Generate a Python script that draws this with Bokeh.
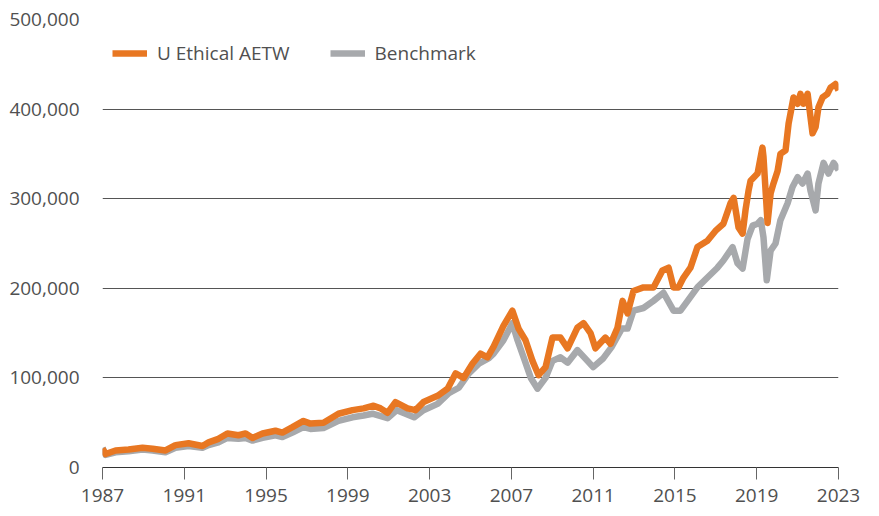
from bokeh.plotting import figure
from bokeh.models import (Range1d, FixedTicker, NumeralTickFormatter, Legend, LegendItem)
from bokeh.embed import file_html
from bokeh.resources import INLINE

# ---- data ----
fund_year = [1987.0, 1987.15, 1987.64, 1988.27, 1988.96, 1989.45, 1990.08, 1990.57, 1991.21,
             1991.89, 1992.19, 1992.67, 1993.11, 1993.65, 1994.0, 1994.34, 1994.83, 1995.46,
             1995.80, 1996.29, 1996.83, 1997.17, 1997.81, 1998.54, 1999.23, 1999.77, 2000.26,
             2000.60, 2000.94, 2001.33, 2001.92, 2002.31, 2002.70, 2003.39, 2003.88, 2004.27,
             2004.66, 2005.10, 2005.49, 2005.83, 2006.13, 2006.61, 2007.05, 2007.35, 2007.69,
             2008.03, 2008.33, 2008.67, 2009.01, 2009.40, 2009.75, 2010.23, 2010.53, 2010.87,
             2011.11, 2011.60, 2011.85, 2012.19, 2012.44, 2012.68, 2012.97, 2013.46, 2013.95,
             2014.39, 2014.69, 2014.93, 2015.17, 2015.42, 2015.76, 2016.10, 2016.59, 2016.98,
             2017.37, 2017.72, 2017.87, 2018.11, 2018.31, 2018.45, 2018.60, 2018.70, 2019.04,
             2019.28, 2019.33, 2019.53, 2019.68, 2019.82, 2020.02, 2020.16, 2020.41, 2020.56,
             2020.80, 2021.00, 2021.14, 2021.29, 2021.49, 2021.63, 2021.73, 2021.88, 2022.02,
             2022.22, 2022.46, 2022.61, 2022.85, 2023.0]
fund_value = [21000, 15000, 19000, 20000, 22000, 21000, 19000, 25000, 27000,
              24000, 28000, 32000, 38000, 36000, 38000, 33000, 38000, 41000,
              39000, 45000, 52000, 49000, 50000, 60000, 64000, 66000, 69000,
              66000, 61000, 73000, 66000, 64000, 73000, 80000, 88000, 105000,
              100000, 116000, 127000, 123000, 135000, 158000, 175000, 155000, 142000,
              119000, 103000, 112000, 145000, 145000, 133000, 156000, 161000, 150000,
              133000, 145000, 138000, 156000, 186000, 172000, 197000, 201000, 201000,
              220000, 223000, 201000, 201000, 212000, 223000, 246000, 253000, 264000,
              272000, 295000, 301000, 268000, 261000, 287000, 309000, 320000, 328000,
              357000, 347000, 273000, 306000, 317000, 331000, 350000, 354000, 384000,
              413000, 406000, 417000, 406000, 417000, 391000, 373000, 380000, 402000,
              413000, 417000, 424000, 428000, 421000]

bench_year = [1987.0, 1987.15, 1987.64, 1988.27, 1988.96, 1989.45, 1990.08, 1990.57, 1991.21,
              1991.89, 1992.19, 1992.67, 1993.11, 1993.65, 1994.0, 1994.34, 1994.83, 1995.46,
              1995.80, 1996.29, 1996.83, 1997.17, 1997.81, 1998.54, 1999.23, 1999.77, 2000.20,
              2000.94, 2001.40, 2002.24, 2002.70, 2003.39, 2003.94, 2004.43, 2004.92, 2005.41,
              2005.90, 2006.13, 2006.61, 2007.05, 2007.30, 2007.60, 2007.95, 2008.28, 2008.67,
              2009.01, 2009.40, 2009.75, 2010.23, 2010.72, 2011.0, 2011.50, 2011.89, 2012.40,
              2012.68, 2012.97, 2013.46, 2013.95, 2014.44, 2014.93, 2015.27, 2015.62, 2016.10,
              2016.59, 2017.08, 2017.37, 2017.82, 2018.06, 2018.31, 2018.55, 2018.80, 2019.04,
              2019.20, 2019.33, 2019.49, 2019.68, 2019.92, 2020.16, 2020.51, 2020.75, 2021.0,
              2021.24, 2021.49, 2021.63, 2021.88, 2022.02, 2022.27, 2022.51, 2022.76, 2023.0]
bench_value = [22000, 14000, 17000, 18000, 20000, 19000, 17000, 22000, 24000,
               22000, 25000, 28000, 33000, 32000, 33000, 30000, 33000, 36000,
               34000, 39000, 45000, 43000, 44000, 52000, 56000, 58000, 60000,
               55000, 64000, 56000, 64000, 71000, 83000, 89000, 105000, 116000,
               122000, 127000, 142000, 161000, 142000, 123000, 100000, 88000, 100000,
               119000, 123000, 117000, 131000, 119000, 112000, 122000, 134000, 155000,
               155000, 175000, 178000, 186000, 195000, 175000, 175000, 186000, 201000,
               212000, 223000, 231000, 246000, 228000, 222000, 255000, 270000, 272000,
               276000, 257000, 209000, 242000, 250000, 276000, 295000, 313000, 324000,
               317000, 328000, 309000, 287000, 317000, 340000, 328000, 340000, 332000]

x_ticks = [1987, 1991, 1995, 1999, 2003, 2007, 2011, 2015, 2019, 2023]
y_ticks = [0, 100000, 200000, 300000, 400000, 500000]
series_names = ["U Ethical AETW", "Benchmark"]

ORANGE = "#E87722"
GREY = "#A7A9AC"
FONT = "Open Sans"
TXT = "#505050"

p = figure(width=870, height=513, output_backend="svg", toolbar_location=None,
           x_range=Range1d(1987, 2023), y_range=Range1d(0, 500000),
           min_border_left=102, min_border_right=32, min_border_top=19, min_border_bottom=46)
p.outline_line_color = None
p.background_fill_color = "white"

bench = p.line(bench_year, bench_value, line_color=GREY, line_width=6.5, line_join="round")
fund = p.line(fund_year, fund_value, line_color=ORANGE, line_width=6.5, line_join="round")

# x axis
xa = p.xaxis[0]
xa.ticker = FixedTicker(ticks=x_ticks)
xa.axis_line_color = "#333333"
xa.axis_line_width = 1
xa.major_tick_line_color = "#666666"
xa.major_tick_in = 0
xa.major_tick_out = 12
xa.minor_tick_line_color = None
xa.major_label_standoff = 9
xa.major_label_text_font = FONT
xa.major_label_text_font_size = "19px"
xa.major_label_text_color = TXT

# y axis
ya = p.yaxis[0]
ya.ticker = FixedTicker(ticks=y_ticks)
ya.formatter = NumeralTickFormatter(format="0,0")
ya.axis_line_color = None
ya.major_tick_line_color = None
ya.minor_tick_line_color = None
ya.major_label_standoff = 17
ya.major_label_text_font = FONT
ya.major_label_text_font_size = "19px"
ya.major_label_text_color = TXT

p.xgrid.grid_line_color = None
p.ygrid.ticker = FixedTicker(ticks=y_ticks[1:])
p.ygrid.grid_line_color = "#555555"
p.ygrid.grid_line_width = 1

legend = Legend(items=[LegendItem(label=series_names[0], renderers=[fund]),
                       LegendItem(label=series_names[1], renderers=[bench])],
                orientation="horizontal", location=(10, 401))
legend.padding = 0
legend.margin = 0
legend.spacing = 40
legend.border_line_color = None
legend.background_fill_alpha = 0
legend.glyph_width = 35
legend.glyph_height = 20
legend.label_standoff = 10
legend.label_text_font = FONT
legend.label_text_font_size = "19px"
legend.label_text_color = TXT
p.add_layout(legend, "center")

open("out.html", "w").write(file_html(p, INLINE))
